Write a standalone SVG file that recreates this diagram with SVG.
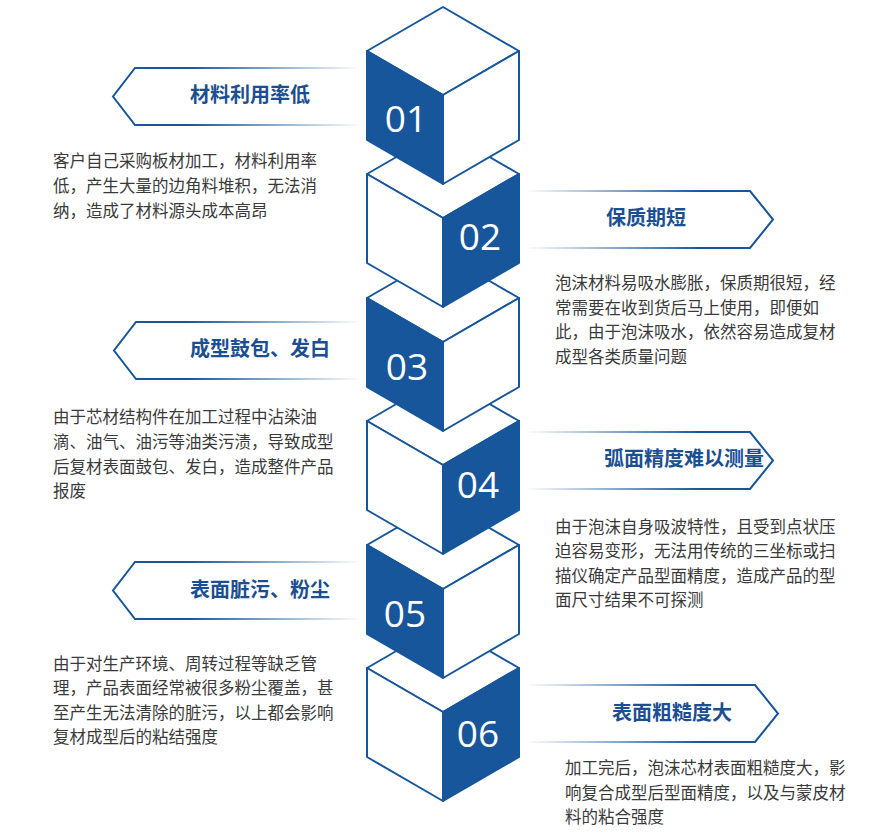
<svg xmlns="http://www.w3.org/2000/svg" xmlns:xlink="http://www.w3.org/1999/xlink" width="877" height="835" viewBox="0 0 877 835">
<style>
.edge{stroke:#17569b;stroke-width:2;stroke-linejoin:round}
.w{fill:#ffffff}
.b{fill:#17569b}
.num{font-family:"Open Sans","Noto Sans",sans-serif;font-size:37px;fill:#ffffff;text-anchor:middle}
.title{font-family:"Noto Sans CJK SC","Noto Sans",sans-serif;font-size:20px;font-weight:bold;fill:#1b4f91}
.body{font-family:"Noto Sans CJK SC","Noto Sans",sans-serif;font-size:16.5px;fill:#3a3a3a}
.banL{fill:none;stroke:url(#gL);stroke-width:2}
.banR{fill:none;stroke:url(#gR);stroke-width:2}
</style>
<defs>
<linearGradient id="gL" gradientUnits="userSpaceOnUse" x1="113" y1="0" x2="362" y2="0">
<stop offset="0" stop-color="#17569b" stop-opacity="1"/>
<stop offset="0.3" stop-color="#17569b" stop-opacity="1"/>
<stop offset="1" stop-color="#17569b" stop-opacity="0"/>
</linearGradient>
<linearGradient id="gR" gradientUnits="userSpaceOnUse" x1="776" y1="0" x2="525" y2="0">
<stop offset="0" stop-color="#17569b" stop-opacity="1"/>
<stop offset="0.3" stop-color="#17569b" stop-opacity="1"/>
<stop offset="1" stop-color="#17569b" stop-opacity="0"/>
</linearGradient>
<g id="cubeL">
<path class="edge w" d="M443,-88 L519,-44 L443,0 L367,-44 Z"/>
<path class="edge w" d="M443,0 L519,-44 L519,45 L443,89 Z"/>
<path class="edge b" d="M367,-44 L443,0 L443,89 L367,45 Z"/>
</g>
<g id="cubeR">
<path class="edge w" d="M443,-88 L519,-44 L443,0 L367,-44 Z"/>
<path class="edge b" d="M443,0 L519,-44 L519,45 L443,89 Z"/>
<path class="edge w" d="M367,-44 L443,0 L443,89 L367,45 Z"/>
</g>
</defs>
<rect width="877" height="835" fill="#ffffff"/>

<g id="connectors">
<path class="banL" d="M362,68 H135 L113,96.5 L135,125 H362"/>
<path class="banR" d="M525,191 H750 L773,219.5 L750,248 H525"/>
<path class="banL" d="M362,322 H136 L114,350.5 L136,379 H362"/>
<path class="banR" d="M525,432 H750 L773,460.5 L750,489 H525"/>
<path class="banL" d="M362,562 H135 L113,590.5 L135,619 H362"/>
<path class="banR" d="M530,685 H755 L778,713.5 L755,742 H530"/>
</g>

<g id="cube06">
<use xlink:href="#cubeR" y="712"/>
<text class="num" x="478" y="747">06</text>
</g>
<g id="cube05">
<use xlink:href="#cubeL" y="589"/>
<text class="num" x="405" y="627">05</text>
</g>
<g id="cube04">
<use xlink:href="#cubeR" y="465"/>
<text class="num" x="478" y="498">04</text>
</g>
<g id="cube03">
<use xlink:href="#cubeL" y="342"/>
<text class="num" x="407" y="380">03</text>
</g>
<g id="cube02">
<use xlink:href="#cubeR" y="218"/>
<text class="num" x="480" y="250">02</text>
</g>
<g id="cube01">
<use xlink:href="#cubeL" y="95"/>
<text class="num" x="406" y="132">01</text>
</g>

<g id="item01">
<text class="title" x="190" y="102">材料利用率低</text>
<text class="body" x="53" y="167">客户自己采购板材加工，材料利用率</text>
<text class="body" x="53" y="192">低，产生大量的边角料堆积，无法消</text>
<text class="body" x="53" y="217">纳，造成了材料源头成本高昂</text>
</g>
<g id="item02">
<text class="title" x="606" y="225">保质期短</text>
<text class="body" x="555" y="289">泡沫材料易吸水膨胀，保质期很短，经</text>
<text class="body" x="555" y="314">常需要在收到货后马上使用，即便如</text>
<text class="body" x="555" y="338">此，由于泡沫吸水，依然容易造成复材</text>
<text class="body" x="555" y="363">成型各类质量问题</text>
</g>
<g id="item03">
<text class="title" x="190" y="356">成型鼓包、发白</text>
<text class="body" x="53" y="423">由于芯材结构件在加工过程中沾染油</text>
<text class="body" x="53" y="448">滴、油气、油污等油类污渍，导致成型</text>
<text class="body" x="53" y="473">后复材表面鼓包、发白，造成整件产品</text>
<text class="body" x="53" y="497">报废</text>
</g>
<g id="item04">
<text class="title" x="604" y="466">弧面精度难以测量</text>
<text class="body" x="555" y="533">由于泡沫自身吸波特性，且受到点状压</text>
<text class="body" x="555" y="557">迫容易变形，无法用传统的三坐标或扫</text>
<text class="body" x="555" y="582">描仪确定产品型面精度，造成产品的型</text>
<text class="body" x="555" y="606">面尺寸结果不可探测</text>
</g>
<g id="item05">
<text class="title" x="190" y="597">表面脏污、粉尘</text>
<text class="body" x="53" y="670">由于对生产环境、周转过程等缺乏管</text>
<text class="body" x="53" y="694">理，产品表面经常被很多粉尘覆盖，甚</text>
<text class="body" x="53" y="719">至产生无法清除的脏污，以上都会影响</text>
<text class="body" x="53" y="743">复材成型后的粘结强度</text>
</g>
<g id="item06">
<text class="title" x="612" y="720">表面粗糙度大</text>
<text class="body" x="565" y="774">加工完后，泡沫芯材表面粗糙度大，影</text>
<text class="body" x="565" y="799">响复合成型后型面精度，以及与蒙皮材</text>
<text class="body" x="565" y="823">料的粘合强度</text>
</g>
</svg>
